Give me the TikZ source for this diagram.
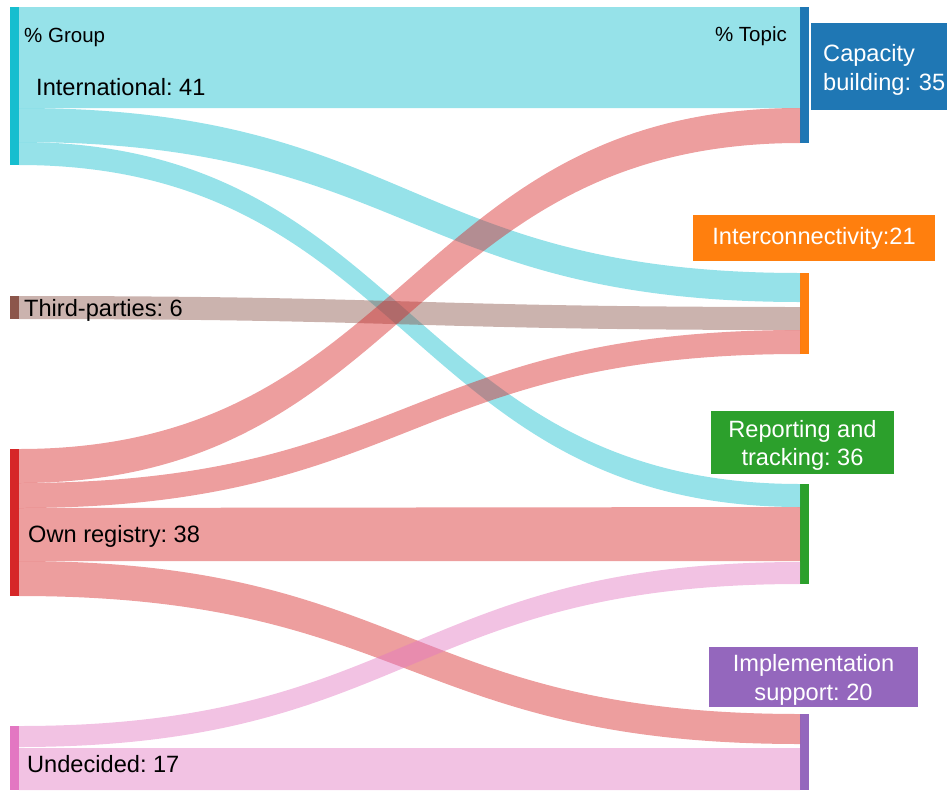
\documentclass[tikz,border=0pt]{standalone}
\usepackage{fontspec}
\setmainfont{Liberation Sans}
\usetikzlibrary{calc}
\frenchspacing

% node colours
\definecolor{cIntl}{HTML}{17BECF}
\definecolor{cThird}{HTML}{8C564B}
\definecolor{cOwn}{HTML}{D62728}
\definecolor{cUndec}{HTML}{E377C2}
\definecolor{cCap}{HTML}{1F77B4}
\definecolor{cInter}{HTML}{FF7F0E}
\definecolor{cRep}{HTML}{2CA02C}
\definecolor{cImpl}{HTML}{9467BD}

% invisible strut that lowers two-line box texts a little
\newcommand\boxlift{\rule{0pt}{23pt}}

\tikzset{
  bar/.style={inner sep=0pt, outer sep=0pt, anchor=north west, draw=none},
  srcbar/.style={bar, minimum width=9pt},
  dstbar/.style={bar, minimum width=8.5pt},
  glabel/.style={anchor=base west, inner sep=0pt, font=\fontsize{23.6}{28}\selectfont},
  headlabel/.style={inner sep=0pt, font=\fontsize{20.5}{24}\selectfont},
  tbox/.style={text=white, inner sep=0pt, align=center, font=\fontsize{23.6}{28.5}\selectfont},
}

% band from node #2 (offsets #3..#4 below its top) to node #5 (offsets #6..#7)
\newcommand\sankeyband[7]{%
  \path (#2.north east) ++(0,#3) coordinate (s1)
        (#2.north east) ++(0,#4) coordinate (s2)
        (#5.north west) ++(0,#6) coordinate (t1)
        (#5.north west) ++(0,#7) coordinate (t2)
        ($(s1)!.5!(t1)$) coordinate (m);
  \fill[#1, fill opacity=.45]
    (s1) .. controls (m |- s1) and (m |- t1) .. (t1) -- (t2)
         .. controls (m |- t2) and (m |- s2) .. (s2) -- cycle;
}

\begin{document}
\begin{tikzpicture}[x=1pt, y=-1pt]
\useasboundingbox (0,0) rectangle (947,790);
\clip (0,0) rectangle (947,790);

% source bars
\node[srcbar, fill=cIntl,  minimum height=158pt] (intl)  at (10,7)   {};
\node[srcbar, fill=cThird, minimum height=23pt]  (third) at (10,296) {};
\node[srcbar, fill=cOwn,   minimum height=147pt] (own)   at (10,449) {};
\node[srcbar, fill=cUndec, minimum height=64pt]  (undec) at (10,726) {};

% target bars
\node[dstbar, fill=cCap,   minimum height=136pt] (cap)   at (800,7)   {};
\node[dstbar, fill=cInter, minimum height=81pt]  (inter) at (800,273) {};
\node[dstbar, fill=cRep,   minimum height=100pt] (rep)   at (800,484) {};
\node[dstbar, fill=cImpl,  minimum height=76pt]  (impl)  at (800,714) {};

% flows
\sankeyband{cIntl}{intl}{0}{101}{cap}{0}{101}
\sankeyband{cIntl}{intl}{101}{135}{inter}{0}{29}
\sankeyband{cIntl}{intl}{135}{158}{rep}{0}{23}
\sankeyband{cThird}{third}{0}{23}{inter}{34}{57}
\sankeyband{cOwn}{own}{0}{34}{cap}{101}{136}
\sankeyband{cOwn}{own}{34}{59}{inter}{57}{81}
\sankeyband{cOwn}{own}{59}{112}{rep}{23}{77}
\sankeyband{cOwn}{own}{112}{147}{impl}{0}{30}
\sankeyband{cUndec}{undec}{0}{21}{rep}{78}{100}
\sankeyband{cUndec}{undec}{22}{64}{impl}{34}{76}

% headings
\node[headlabel, anchor=base west] (ghead) at (24,42) {\% Group};
\node[headlabel, anchor=base east] (thead) at (787,41) {\% Topic};

% group labels
\node[glabel] (lintl)  at (36,95)  {International: 41};
\node[glabel] (lthird) at (24,316) {Third-parties: 6};
\node[glabel] (lown)   at (28,542) {Own registry: 38};
\node[glabel] (lundec) at (27,772) {Undecided: 17};

% topic labels
\node[tbox, fill=cCap, anchor=north west, minimum width=170pt, minimum height=87pt,
      text width=146pt, inner xsep=12pt, align=left] (lcap) at (811,23)
      {\boxlift Capacity\\building: 35};
\node[tbox, fill=cInter, minimum width=242pt, minimum height=46pt] (linter) at (814,238)
      {Interconnectivity:21};
\node[tbox, fill=cRep, minimum width=183pt, minimum height=63pt] (lrep) at (802.5,442.5)
      {\boxlift Reporting and\\tracking: 36};
\node[tbox, fill=cImpl, minimum width=209pt, minimum height=60pt] (limpl) at (813.5,677)
      {\boxlift Implementation\\support: 20};
\end{tikzpicture}
\end{document}
